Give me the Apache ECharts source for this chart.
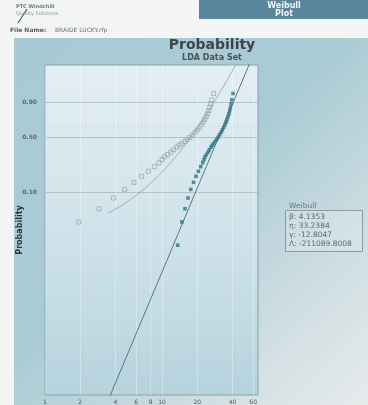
<!DOCTYPE html>
<html>
<head>
<meta charset="utf-8">
<script src="https://cdn.jsdelivr.net/npm/echarts@6/dist/echarts.min.js"></script>
<style>
  html, body { margin: 0; padding: 0; background: #f3f4f4; }
  #chart { width: 368px; height: 405px; }
</style>
</head>
<body>
<div id="chart"></div>
<script>
// Failure times (raw, unshifted) and their plotting positions
const failureTimes = [0.79, 1.94, 2.89, 3.84, 4.79, 5.76, 6.68, 7.64, 8.59, 9.45,
  10.0, 10.47, 11.12, 11.88, 12.56, 13.37, 14.03, 14.78, 15.66, 16.44,
  17.30, 18.21, 19.13, 19.95, 20.79, 21.66, 22.41, 23.10, 23.81, 24.45,
  25.04, 25.56, 26.09, 26.61, 27.55];
const unreliability = [0.0172, 0.0376, 0.0585, 0.0833, 0.1102, 0.1379, 0.1667, 0.1946, 0.2245, 0.2521,
  0.2761, 0.2985, 0.3185, 0.3396, 0.3637, 0.3889, 0.4099, 0.4294, 0.4505, 0.4746,
  0.5004, 0.5292, 0.5586, 0.5886, 0.6200, 0.6527, 0.6854, 0.7187, 0.7524, 0.7860,
  0.8210, 0.8544, 0.8861, 0.9165, 0.9541];

// Axis ticks
const probTicks = [0.10, 0.50, 0.90];
const timeTicks = [1, 2, 4, 6, 8, 10, 20, 40, 60];

// Fitted 3-parameter Weibull
const beta = 4.1353;
const eta = 33.2384;
const gamma = -12.8047;
const lambda = -211089.8008;

// Weibull probability scale: y = ln(-ln(1 - F))
const wb = F => Math.log(-Math.log(1 - F));
const invWb = w => 1 - Math.exp(-Math.exp(w));

const shiftedPts = failureTimes.map((t, i) => [t - gamma, wb(unreliability[i])]);
const rawPts = failureTimes.map((t, i) => [t, wb(unreliability[i])]);

// Fit line in shifted time (straight on this paper)
const fitLine = [3, 80].map(x => [x, beta * Math.log(x / eta)]);
// Same fit in raw time (curves on this paper)
const fitCurve = [];
for (let k = 0; k <= 80; k++) {
  const t = 3.5 * Math.pow(60 / 3.5, k / 80);
  fitCurve.push([t, beta * Math.log((t - gamma) / eta)]);
}

const chart = echarts.init(document.getElementById('chart'), null, { renderer: 'canvas' });

const labelFont = 'DejaVu Sans, Verdana, sans-serif';

chart.setOption({
  animation: false,
  backgroundColor: '#f3f4f4',
  grid: {
    left: 45, right: 110, top: 65, bottom: 10,
    show: true,
    borderColor: '#86a2ab',
    borderWidth: 1,
    backgroundColor: {
      type: 'linear', x: 0, y: 0, x2: 0, y2: 1,
      colorStops: [
        { offset: 0, color: '#e3eef2' },
        { offset: 0.5, color: '#d0e3ea' },
        { offset: 1, color: '#b6d3dd' }
      ]
    }
  },
  xAxis: {
    type: 'log',
    logBase: 10,
    min: 1,
    max: 66,
    axisLine: { show: false },
    axisTick: { show: false, customValues: timeTicks },
    axisLabel: {
      customValues: timeTicks,
      fontSize: 6,
      color: '#555',
      fontFamily: labelFont,
      margin: 4
    },
    splitLine: { show: true, lineStyle: { color: 'rgba(255,255,255,0.3)', width: 1 } }
  },
  yAxis: {
    type: 'value',
    min: -9.17,
    max: 2.10,
    name: 'Probability',
    nameLocation: 'middle',
    nameGap: 21,
    nameMoveOverlap: false,
    nameRotate: 90,
    nameTextStyle: { fontSize: 8, fontWeight: 'bold', color: '#333', fontFamily: labelFont },
    axisLine: { show: false },
    axisTick: { show: false, customValues: probTicks.map(wb) },
    axisLabel: {
      customValues: probTicks.map(wb),
      formatter: v => invWb(v).toFixed(2),
      fontSize: 6,
      fontWeight: 'bold',
      color: '#666',
      fontFamily: labelFont,
      margin: 8
    },
    splitLine: { show: true, lineStyle: { color: '#b3c1c6', width: 1 } }
  },
  graphic: [
    // page panel behind the chart
    {
      type: 'rect', z: -100, silent: true,
      shape: { x: 14, y: 38, width: 354, height: 367 },
      style: {
        fill: {
          type: 'linear', x: 0, y: 0, x2: 1, y2: 1,
          colorStops: [
            { offset: 0, color: '#a7cad4' },
            { offset: 0.45, color: '#a9cbd4' },
            { offset: 0.8, color: '#d3e0e4' },
            { offset: 1, color: '#e6eaeb' }
          ]
        }
      }
    },
    // header tab
    { type: 'rect', z: -90, shape: { x: 199, y: 0, width: 169, height: 19 }, style: { fill: '#5a869d' } },
    { type: 'text', z: 10, x: 284, y: 2, style: { text: 'Weibull', fill: '#f2f6f8', font: 'bold 8px ' + labelFont, align: 'center' } },
    { type: 'text', z: 10, x: 284, y: 10, style: { text: 'Plot', fill: '#f2f6f8', font: 'bold 8px ' + labelFont, align: 'center' } },
    // logo block
    { type: 'line', z: 10, shape: { x1: 18, y1: 23, x2: 27, y2: 9 }, style: { stroke: '#4d5a60', lineWidth: 1.2 } },
    { type: 'text', z: 10, x: 16, y: 4, style: { text: 'PTC Windchill', fill: '#6b7a82', font: 'bold 5px ' + labelFont } },
    { type: 'text', z: 10, x: 16, y: 11, style: { text: 'Quality Solutions', fill: '#8a969c', font: '5px ' + labelFont } },
    { type: 'text', z: 10, x: 10, y: 27, style: { text: 'File Name:', fill: '#555d61', font: 'bold 6px ' + labelFont } },
    { type: 'text', z: 10, x: 55, y: 27, style: { text: 'BRAIDE LUCKY.rfp', fill: '#6a7378', font: '6px ' + labelFont } },
    // chart title
    { type: 'text', z: 10, x: 212, y: 38, style: { text: 'Probability', fill: '#3f4446', font: 'bold 14px ' + labelFont, align: 'center' } },
    { type: 'text', z: 10, x: 212, y: 54, style: { text: 'LDA Data Set', fill: '#4a5053', font: 'bold 8px ' + labelFont, align: 'center' } },
    // parameter box
    { type: 'text', z: 10, x: 289, y: 202, style: { text: 'Weibull', fill: '#6d777b', font: '7.5px ' + labelFont } },
    { type: 'rect', z: 9, shape: { x: 285.5, y: 210.5, width: 77, height: 41 }, style: { fill: 'rgba(230,238,241,0.35)', stroke: '#8f9a9e', lineWidth: 1 } },
    { type: 'text', z: 10, x: 289, y: 213, style: { text: 'β: ' + beta.toFixed(4), fill: '#5e686c', font: '7.5px ' + labelFont } },
    { type: 'text', z: 10, x: 289, y: 222, style: { text: 'η: ' + eta.toFixed(4), fill: '#5e686c', font: '7.5px ' + labelFont } },
    { type: 'text', z: 10, x: 289, y: 231, style: { text: 'γ: ' + gamma.toFixed(4), fill: '#5e686c', font: '7.5px ' + labelFont } },
    { type: 'text', z: 10, x: 289, y: 240, style: { text: 'Λ: ' + lambda.toFixed(4), fill: '#5e686c', font: '7.5px ' + labelFont } }
  ],
  series: [
    {
      type: 'line',
      data: fitCurve,
      symbol: 'none',
      clip: true,
      lineStyle: { color: '#9aa9ae', width: 0.9 },
      z: 2,
      markLine: {
        silent: true,
        symbol: 'none',
        label: { show: false },
        lineStyle: { color: 'rgba(205,200,185,0.5)', type: [2, 2], width: 1 },
        data: [{ yAxis: 0 }]
      }
    },
    {
      type: 'line',
      data: fitLine,
      symbol: 'none',
      clip: true,
      lineStyle: { color: '#4f6b74', width: 0.9 },
      z: 3
    },
    {
      type: 'scatter',
      data: rawPts,
      symbol: 'rect',
      symbolSize: 4,
      clip: true,
      itemStyle: { color: 'rgba(0,0,0,0)', borderColor: '#8d9ca1', borderWidth: 0.8 },
      z: 4
    },
    {
      type: 'scatter',
      data: shiftedPts,
      symbol: 'rect',
      symbolSize: 3.6,
      clip: true,
      itemStyle: { color: '#2f7482' },
      z: 5
    }
  ]
});
</script>
</body>
</html>
